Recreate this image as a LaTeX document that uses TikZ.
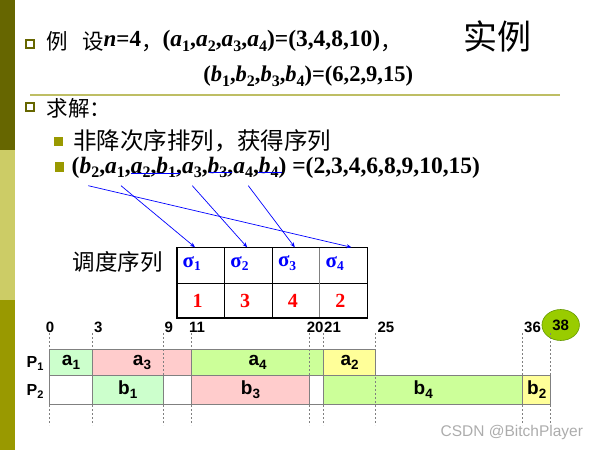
\documentclass[tikz,border=0pt]{standalone}
\usepackage{fontspec}
\setmainfont{Liberation Serif}
\setsansfont{Liberation Sans}
\newfontfamily\cjk{Noto Sans CJK SC}
\usetikzlibrary{arrows.meta,shapes.geometric}
\definecolor{darkolive}{RGB}{102,102,0}
\definecolor{lightolive}{RGB}{204,204,102}
\definecolor{oliveb}{RGB}{153,153,0}
\definecolor{ruleol}{RGB}{190,190,100}
\definecolor{gA}{RGB}{204,255,204}
\definecolor{gP}{RGB}{255,204,204}
\definecolor{gL}{RGB}{204,255,153}
\definecolor{gY}{RGB}{255,255,153}
\definecolor{circf}{RGB}{153,204,0}
\definecolor{circd}{RGB}{102,153,0}
\definecolor{sblue}{RGB}{0,0,255}
\definecolor{sred}{RGB}{255,0,0}
\newcommand\fsz[1]{\fontsize{#1}{#1}\selectfont}
\newcommand\zh[1]{\raisebox{-3pt}{\cjk #1}}
\newcommand\ssb[1]{\raisebox{-4.5pt}{\fsz{16}#1}}
\newcommand\gsb[1]{\raisebox{-4pt}{\fsz{13.5}#1}}
\newcommand\psb[1]{\raisebox{-3pt}{\fsz{11}#1}}
\newcommand\tsb[1]{\raisebox{-3.5pt}{\fsz{13.5}#1}}
\tikzset{
  txt/.style={inner sep=0pt, outer sep=0pt},
  gbar/.style={draw=gray, line width=0.7pt, anchor=north west, inner sep=0pt, outer sep=0pt, font=\sffamily\bfseries\fsz{19}},
  num/.style={inner sep=0pt, font=\sffamily\bfseries\fsz{15}},
  tick/.style={gray, line width=0.6pt, dash pattern=on 2pt off 2pt},
  cell/.style={draw, line width=0.8pt, anchor=north west, minimum width=47.65pt, inner sep=0pt, outer sep=0pt},
  arr/.style={sblue, line width=0.7pt, -{Stealth[length=5pt,width=4pt]}},
  strike/.style={sblue, line width=1pt}
}
\begin{document}
\begin{tikzpicture}[x=1pt,y=-1pt]
\useasboundingbox (0,0) rectangle (600,450);
% left bar
\fill[darkolive] (0,0) rectangle (15,150);
\fill[lightolive] (0,150) rectangle (15,300);
\fill[oliveb] (0,300) rectangle (15,450);
% bullets
\node[draw=darkolive, line width=2pt, minimum size=8pt, inner sep=0pt] (bl1) at (30,44) {};
\node[draw=darkolive, line width=2pt, minimum size=8pt, inner sep=0pt] (bl2) at (30,106.7) {};
\node[fill=oliveb, minimum size=9.5pt, inner sep=0pt] (bl3) at (58.7,141.5) {};
\node[fill=oliveb, minimum size=9.5pt, inner sep=0pt] (bl4) at (59.5,167.2) {};
% line 1
\node[txt, anchor=base west, font=\fsz{21.5}] (l1) at (46.7,46.7)
 {\zh{例}\hspace{14pt}\zh{设}{\fsz{23}\bfseries\textit{n}=4}\zh{，}{\fsz{23.5}\bfseries(\textit{a}\ssb{1},\textit{a}\ssb{2},\textit{a}\ssb{3},\textit{a}\ssb{4})=(3,4,8,10)}\zh{，}};
\node[txt, anchor=base west, font=\fsz{22.5}\bfseries] (l2) at (203.3,81.7)
 {(\textit{b}\ssb{1},\textit{b}\ssb{2},\textit{b}\ssb{3},\textit{b}\ssb{4})=(6,2,9,15)};
\node[txt, font=\cjk\fsz{34}] (title) at (497.5,36.7) {实例};
\draw[ruleol, line width=1.5pt] (30,95) -- (560,95);
\node[txt, anchor=west, font=\cjk\fsz{21.5}] (qj) at (46.7,108) {求解：};
\node[txt, anchor=west, font=\cjk\fsz{23.5}] (fj) at (73,141) {非降次序排列，获得序列};
\node[txt, anchor=base west, font=\fsz{23.5}\bfseries] (seq) at (71.7,173)
 {(\textit{b}\ssb{2},\textit{a}\ssb{1},\textit{a}\ssb{2},\textit{b}\ssb{1},\textit{a}\ssb{3},\textit{b}\ssb{3},\textit{a}\ssb{4},\textit{b}\ssb{4}) =(2,3,4,6,8,9,10,15)};
\draw[strike] (130.7,173) -- (180,173);
\draw[strike] (209.3,172.3) -- (231.7,172.3);
\draw[strike] (258.3,172.3) -- (281.7,172.3);
% table
\node[txt, font=\cjk\fsz{22.5}] (ddxl) at (117.5,262) {调度序列};
\node[cell, minimum height=36pt] (s1) at (176.7,247.3) {};
\node[cell, minimum height=36pt] (s2) at (224.35,247.3) {};
\node[cell, minimum height=36pt] (s3) at (272,247.3) {};
\node[cell, minimum height=36pt] (s4) at (319.65,247.3) {};
\node[cell, minimum height=34.4pt] (n1) at (176.7,283.3) {};
\node[cell, minimum height=34.4pt] (n2) at (224.35,283.3) {};
\node[cell, minimum height=34.4pt] (n3) at (272,283.3) {};
\node[cell, minimum height=34.4pt] (n4) at (319.65,283.3) {};
\draw[gray, line width=0.9pt] (s4.north west) -- (n4.south west);
\draw[line width=1.6pt] (s1.north west) rectangle (n4.south east);
\foreach \i in {1,2,3,4}{
  \node[txt, anchor=west, text=sblue, font=\fsz{21}\bfseries] (sg\i) at ([xshift=6pt,yshift=2pt]s\i.west) {σ\tsb{\i}};
}
\node[txt, text=sred, font=\fsz{20}\bfseries] (v1) at ([xshift=-3pt]n1.center) {1};
\node[txt, text=sred, font=\fsz{20}\bfseries] (v2) at ([xshift=-3pt]n2.center) {3};
\node[txt, text=sred, font=\fsz{20}\bfseries] (v3) at ([xshift=-3pt]n3.center) {4};
\node[txt, text=sred, font=\fsz{20}\bfseries] (v4) at ([xshift=-3pt]n4.center) {2};
% arrows
\coordinate (pb2) at (88.3,185.7);
\coordinate (pa1) at (121,185.7);
\coordinate (pa3) at (192.3,185.7);
\coordinate (pa4) at (248.3,185.7);
\draw[arr] (pb2) -- ([xshift=8pt]s4.north);
\draw[arr] (pa1) -- ([xshift=-5.5pt]s1.north);
\draw[arr] (pa3) -- ([xshift=-1pt]s2.north);
\draw[arr] (pa4) -- ([xshift=-1pt]s3.north);
% gantt
\node[gbar, fill=gA, minimum width=42.6pt, minimum height=26pt] (a1) at (49.7,349.7) {a\gsb{1}};
\node[gbar, fill=gP, minimum width=99.4pt, minimum height=26pt] (a3) at (92.3,349.7) {a\gsb{3}};
\node[gbar, fill=gL, minimum width=132pt, minimum height=26pt] (a4) at (191.7,349.7) {a\gsb{4}};
\node[gbar, fill=gY, minimum width=52pt, minimum height=26pt] (a2) at (323.7,349.7) {a\gsb{2}};
\node[gbar, fill=white, minimum width=42.6pt, minimum height=28.3pt] (e1) at (49.7,375.7) {};
\node[gbar, fill=gA, minimum width=71pt, minimum height=28.3pt] (b1) at (92.3,375.7) {b\gsb{1}};
\node[gbar, fill=white, minimum width=28.4pt, minimum height=28.3pt] (e2) at (163.3,375.7) {};
\node[gbar, fill=gP, minimum width=117.6pt, minimum height=28.3pt] (b3) at (191.7,375.7) {b\gsb{3}};
\node[gbar, fill=white, minimum width=14.4pt, minimum height=28.3pt] (e3) at (309.3,375.7) {};
\node[gbar, fill=gL, minimum width=199pt, minimum height=28.3pt] (b4) at (323.7,375.7) {b\gsb{4}};
\node[gbar, fill=gY, minimum width=28pt, minimum height=28.3pt] (b2) at (522.7,375.7) {b\gsb{2}};
\node[num, font=\sffamily\bfseries\fsz{16}] (p1) at (35,363) {P\psb{1}};
\node[num, font=\sffamily\bfseries\fsz{16}] (p2) at (35,391) {P\psb{2}};
\node[ellipse, draw=circd, fill=circf, line width=0.6pt, minimum width=37.5pt, minimum height=31pt, inner sep=0pt] (c38) at (560.7,325) {};
\foreach \x in {49.7,92.3,163.3,191.7,309.3,323.7,375.7,522.7,550.7}
  \draw[tick] (\x,333) -- (\x,425);
\node[num] (t0) at (50,327) {0};
\node[num, anchor=west] (t3) at (94,327) {3};
\node[num, anchor=west] (t9) at (164.3,327) {9};
\node[num, anchor=west] (t11) at (189,327) {11};
\node[num, anchor=west] (t20) at (306.7,327) {20};
\node[num, anchor=west] (t21) at (324,327) {21};
\node[num, anchor=west] (t25) at (377.3,327) {25};
\node[num, anchor=west] (t36) at (524,327) {36};
\node[num] (t38) at (560.7,325) {38};
\node[txt, anchor=east, text=gray!65, font=\sffamily\fsz{15.5}] (wm) at (583,432) {CSDN @BitchPlayer};
\end{tikzpicture}
\end{document}
